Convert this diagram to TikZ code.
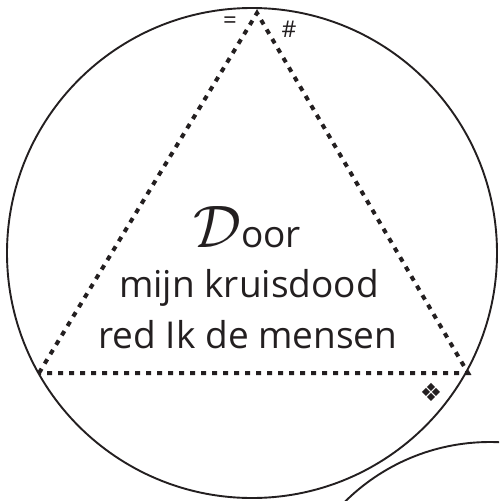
\RequirePackage{fix-cm}
\documentclass[tikz,border=0pt]{standalone}
\usepackage{fontspec}
\setmainfont{Open Sans}
\newfontfamily\symfont{DejaVu Sans}
\usepackage{xcolor}
\definecolor{Ink}{HTML}{231F20}

\begin{document}
\begin{tikzpicture}[
  x=1pt, y=-1pt,
  ring/.style={circle, draw=Ink, line width=1.9pt, inner sep=0pt, minimum size=#1},
  dotline/.style={draw=Ink, line width=4pt, dash pattern=on 5pt off 6pt},
  sign/.style={text=Ink, inner sep=0pt},
  motto/.style={text=Ink, align=center, inner sep=0pt, font=\fontsize{37}{51}\selectfont}
]
\useasboundingbox (0,0) rectangle (499,501);
\clip (0,0) rectangle (499,501);

\node[ring=490pt] (disc) at (252,253) {};
\node[ring=412pt] (nextdisc) at (490,648) {};

\coordinate (apex) at (257,13);
\coordinate (baseL) at (39,373);
\coordinate (baseR) at (468,373);
\draw[dotline] (baseL) -- (apex) -- (baseR) -- cycle;

\node[sign, font=\fontsize{24}{24}\selectfont] (eq) at (230,23) {=};
\node[sign, font=\fontsize{23}{23}\selectfont] (hash) at (289,29) {\#};
\node[sign, font=\symfont\fontsize{25}{25}\selectfont] (orn) at (431,392) {❖};

\node[motto, anchor=base] (door) at (247,247) {{\fontsize{60}{60}\selectfont$\mathcal{D}$}oor};
\node[motto, anchor=base] (line2) at (249,297) {mijn kruisdood};
\node[motto, anchor=base] (line3) at (248,348) {red Ik de mensen};
\end{tikzpicture}
\end{document}
